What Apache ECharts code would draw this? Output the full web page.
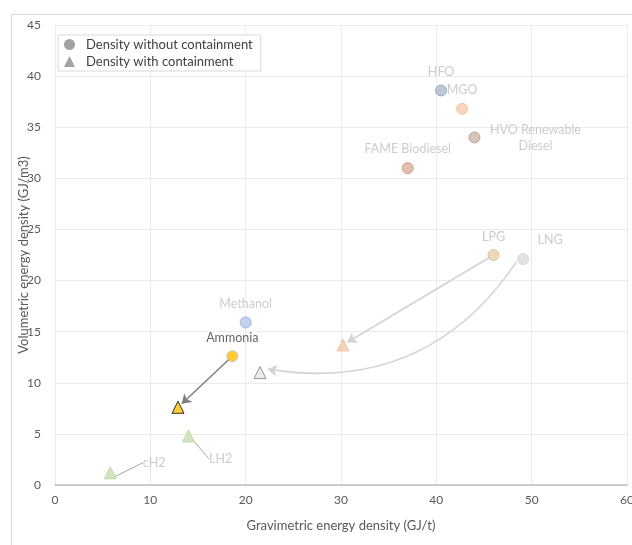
<!DOCTYPE html>
<html><head><meta charset="utf-8">
<script src="https://cdn.jsdelivr.net/npm/echarts@6/dist/echarts.min.js"></script>
<style>html,body{margin:0;padding:0;background:#fff}#c{width:632px;height:545px}</style>
</head><body><div id="c"></div>
<script>
// Fuels: density without containment
const fuelNames = ['HFO', 'MGO', 'HVO Renewable\nDiesel', 'FAME Biodiesel', 'LPG', 'LNG', 'Methanol', 'Ammonia'];
const fuelGrav = [40.5, 42.7, 44.0, 37.0, 46.0, 49.1, 20.0, 18.6];
const fuelVol = [38.6, 36.8, 34.0, 31.0, 22.5, 22.1, 15.9, 12.6];
// Fuels: density with containment
const contNames = ['Ammonia', 'LPG', 'LNG', 'LH2', 'cH2'];
const contGrav = [12.9, 30.2, 21.5, 14.0, 5.8];
const contVol = [7.6, 13.7, 11.0, 4.8, 1.2];
// Arrow links (fuel name -> containment name)
const arrowFrom = ['Ammonia', 'LPG', 'LNG'];
const arrowTo = ['Ammonia', 'LPG', 'LNG'];
// Axis ticks
const xTicks = [0, 10, 20, 30, 40, 50, 60];
const yTicks = [0, 5, 10, 15, 20, 25, 30, 35, 40, 45];

const FONT = 'Lato, "Open Sans", sans-serif';
const fuelStyle = {
  'HFO': {fill: '#adb9ca', stroke: '#8f9fb5'},
  'MGO': {fill: '#f8cbad', stroke: '#f6b98f'},
  'HVO Renewable\nDiesel': {fill: '#cdb5a6', stroke: '#b09383'},
  'FAME Biodiesel': {fill: '#dcb09a', stroke: '#c4937a'},
  'LPG': {fill: '#f4c9ab', stroke: '#a9d18e'},
  'LNG': {fill: '#dcdcdc', stroke: '#d0d0d0'},
  'Methanol': {fill: '#b4c7e7', stroke: '#8faadc'},
  'Ammonia': {fill: '#ffc000', stroke: '#bfbfbf'}
};
const contStyle = {
  'Ammonia': {fill: '#ffc000', stroke: '#000000'},
  'LPG': {fill: '#f4c7a8', stroke: '#f2bf9c'},
  'LNG': {fill: '#e7e6e6', stroke: '#7f7f7f'},
  'LH2': {fill: '#c5dfb4', stroke: '#b4d39f'},
  'cH2': {fill: '#c5dfb4', stroke: '#b4d39f'}
};
const fuelLabel = {
  'HFO': {position: 'top', distance: 6},
  'MGO': {position: 'top', distance: 6},
  'HVO Renewable\nDiesel': {position: 'right', distance: 5, align: 'center', offset: [50, 1], lineHeight: 16},
  'FAME Biodiesel': {position: 'top', distance: 7},
  'LPG': {position: 'top', distance: 6},
  'LNG': {position: 'top', distance: 7, offset: [27, 0]},
  'Methanol': {position: 'top', distance: 6},
  'Ammonia': {position: 'top', distance: 6, color: '#404040'}
};
const leaderShift = {'LH2': [10, 23], 'cH2': [22, -10]};

const fuelData = fuelNames.map((n, i) => ({
  name: n, value: [fuelGrav[i], fuelVol[i]],
  itemStyle: {color: fuelStyle[n].fill, borderColor: fuelStyle[n].stroke, borderWidth: 1},
  label: Object.assign({show: true, formatter: '{b}', color: '#bfbfbf', fontSize: 12.5, fontFamily: FONT}, fuelLabel[n])
}));
const contData = contNames.map((n, i) => {
  const d = {
    name: n, value: [contGrav[i], contVol[i]],
    itemStyle: {color: contStyle[n].fill, borderColor: contStyle[n].stroke, borderWidth: 1},
    label: {show: false}
  };
  if (leaderShift[n]) {
    d.label = {show: true, formatter: '{b}', position: 'right', distance: 4, color: '#bfbfbf', fontSize: 12.5, fontFamily: FONT};
    d.labelLine = {show: true, lineStyle: {color: '#a6a6a6', width: 1}};
  }
  return d;
});

function shorten(a, b, f0, f1) {
  return [[a[0] + (b[0] - a[0]) * f0, a[1] + (b[1] - a[1]) * f0],
          [a[0] + (b[0] - a[0]) * (1 - f1), a[1] + (b[1] - a[1]) * (1 - f1)]];
}
const arrowData = arrowFrom.map((f, k) => {
  const i = fuelNames.indexOf(f), j = contNames.indexOf(arrowTo[k]);
  const a = [fuelGrav[i], fuelVol[i]], b = [contGrav[j], contVol[j]];
  if (f === 'Ammonia') return {coords: shorten(a, b, 0.05, 0.07), lineStyle: {color: '#7f7f7f', width: 1.5, opacity: 1, curveness: 0}};
  if (f === 'LNG') return {coords: shorten(a, b, 0.025, 0.03), lineStyle: {color: '#d3d3d3', width: 1.6, opacity: 1, curveness: 0.32}};
  return {coords: shorten(a, b, 0.025, 0.03), lineStyle: {color: '#d3d3d3', width: 1.6, opacity: 1, curveness: 0}};
});

const chart = echarts.init(document.getElementById('c'));
chart.setOption({
  animation: false,
  textStyle: {fontFamily: FONT},
  graphic: [{type: 'rect', left: 9, top: 12, shape: {width: 700, height: 600}, style: {fill: 'none', stroke: '#d9d9d9', lineWidth: 1}, z: -10, silent: true}],
  grid: {left: 55, right: 5, top: 25, bottom: 60, outerBoundsMode: 'none', containLabel: false},
  legend: {
    left: 58, top: 35, orient: 'vertical', itemGap: 4, itemWidth: 11, itemHeight: 11,
    padding: [3, 8, 3, 6], borderColor: '#d9d9d9', borderWidth: 1, backgroundColor: '#fff',
    textStyle: {color: '#404040', fontSize: 13, fontFamily: FONT, padding: [0, 0, 0, 6]},
    data: [
      {name: 'Density without containment', icon: 'circle', itemStyle: {color: '#8c8c8c', borderWidth: 0}},
      {name: 'Density with containment', icon: 'triangle', itemStyle: {color: '#8c8c8c', borderWidth: 0}}
    ]
  },
  xAxis: {
    type: 'value', min: xTicks[0], max: xTicks[xTicks.length - 1], interval: 10,
    name: 'Gravimetric energy density (GJ/t)', nameLocation: 'middle', nameGap: 34, nameMoveOverlap: false,
    nameTextStyle: {color: '#595959', fontSize: 13, fontFamily: FONT},
    axisLine: {show: true, lineStyle: {color: '#bfbfbf', width: 1.5}},
    axisTick: {show: false},
    axisLabel: {color: '#595959', fontSize: 12, margin: 9, fontFamily: FONT},
    splitLine: {show: true, lineStyle: {color: '#ebebeb', width: 1}}
  },
  yAxis: {
    type: 'value', min: yTicks[0], max: yTicks[yTicks.length - 1], interval: 5,
    name: 'Volumetric energy density (GJ/m3)', nameLocation: 'middle', nameGap: 25, nameMoveOverlap: false,
    nameTextStyle: {color: '#595959', fontSize: 13, fontFamily: FONT},
    axisLine: {show: false}, axisTick: {show: false},
    axisLabel: {color: '#595959', fontSize: 12, margin: 14, fontFamily: FONT},
    splitLine: {show: true, lineStyle: {color: '#ebebeb', width: 1}}
  },
  series: [
    {
      type: 'lines', coordinateSystem: 'cartesian2d', z: 2, silent: true,
      symbol: ['none', 'arrow'], symbolSize: [0, 9],
      lineStyle: {opacity: 1},
      data: arrowData
    },
    {
      name: 'Density without containment', type: 'scatter', symbol: 'circle', symbolSize: 11, z: 5,
      itemStyle: {color: '#8c8c8c'}, data: fuelData
    },
    {
      name: 'Density with containment', type: 'scatter', symbol: 'triangle', symbolSize: 12, z: 5,
      itemStyle: {color: '#8c8c8c'}, data: contData,
      labelLayout: function (p) {
        const s = leaderShift[contNames[p.dataIndex]];
        return s ? {dx: s[0], dy: s[1]} : {};
      }
    }
  ]
});
</script></body></html>
